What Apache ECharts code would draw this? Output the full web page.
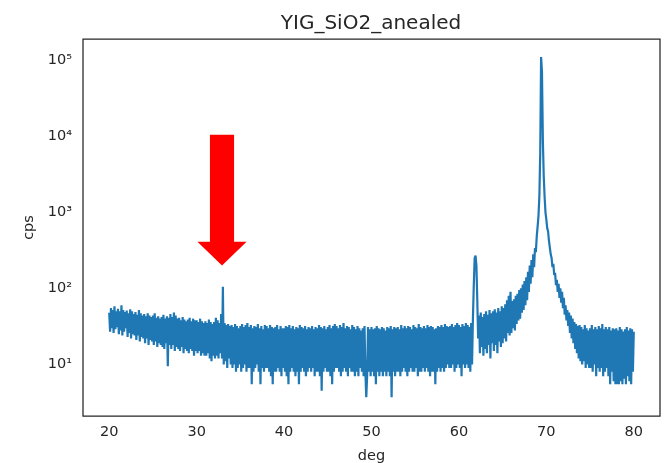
<!DOCTYPE html>
<html>
<head>
<meta charset="utf-8">
<script src="https://cdn.jsdelivr.net/npm/echarts@6/dist/echarts.min.js"></script>
<style>
  html, body { margin: 0; padding: 0; background: #fff; }
  #chart { width: 664px; height: 463px; }
</style>
</head>
<body>
<div id="chart"></div>
<script>
// scan grid (2theta, deg)
const degStart = 20;
const degStep = 0.1;
const xTicks = [20, 30, 40, 50, 60, 70, 80];

// counts per second, one row per degree (x.0 .. x.9)
const cps = [
  48,27,55,30,52,26,58,29,50,31,
  54,25,50,28,60,24,52,27,49,30,
  51,23,47,26,53,22,50,25,46,24,
  49,21,45,24,52,20,47,23,44,22,
  46,19,43,22,47,18,44,21,42,20,
  44,18,47,20,41,17,43,19,40,18,
  42,17,45,16,40,19,43,9.5,41,18,
  46,16,42,18,48,15,44,17,40,16,
  41,15,38,17,42,14,39,16,37,15,
  39,14,41,16,37,15,40,13,38,15,
  38,14,36,15,40,13,37,14,35,13,
  37,13,35,14,39,12,36,11,34,13,
  36,12,41,13,38,12,35,14,46,12,
  105,10,35,11,33,9,34,12,32,10,
  33,9,31,10,34,8,32,9,30,10,
  32,8,34,9,31,10,33,8,35,9,
  31,9,33,5.5,30,8,32,9,31,10,
  34,8,30,5.5,32,9,29,8,33,9,
  32,9,30,8,33,7,31,5.5,30,8,
  31,8,33,9,29,8,32,7,30,9,
  30,8,32,7,31,5.5,33,8,30,9,
  32,8,29,7,31,8,30,5.5,33,8,
  31,9,30,8,32,7,29,8,31,9,
  30,8,32,9,29,7,31,8,30,8,
  33,7,31,4.5,30,8,32,9,29,8,
  31,8,33,7,30,5.5,32,8,34,9,
  32,9,30,8,33,7,31,8,35,9,
  30,8,32,7,31,9,29,8,33,8,
  31,7,29,8,32,7,30,9,28,8,
  30,7,32,8,3.7,7,31,8,29,7,
  31,8,29,7,30,5.5,32,8,30,7,
  29,8,31,7,30,8,28,7,31,8,
  30,7,32,3.7,29,8,31,7,30,8,
  31,8,29,7,33,8,30,9,32,8,
  30,7,32,8,31,9,29,8,33,8,
  31,9,30,7,34,8,31,8,30,9,
  32,8,30,9,33,8,31,7,32,8,
  31,8,29,5.5,30,8,32,9,31,8,
  33,9,31,8,34,9,32,10,31,9,
  32,9,34,10,31,8,33,9,35,10,
  33,9,31,7,34,10,32,9,35,10,
  33,9,31,8,35,10,40,110,250,270,
  200,70,22,44,14,48,17,42,13,46,
  16,50,14,45,18,52,12,47,19,50,
  15,53,18,48,14,55,20,50,17,58,
  19,55,22,62,20,70,26,80,24,90,
  26,68,30,72,28,80,34,85,38,95,
  40,100,48,112,52,125,60,140,70,165,
  90,200,115,235,140,280,190,340,300,480,
  650,900,1600,6000,110000,70000,9000,3000,1600,1000,
  800,620,560,420,400,280,250,190,210,150,
  160,110,130,90,115,75,100,65,90,55,
  75,45,60,38,52,32,48,26,44,22,
  40,19,36,16,34,14,32,12,33,11,
  31,10,29,11,33,9,30,10,28,9,
  30,9,33,8,29,10,31,7,29,9,
  32,8,30,9,34,7,29,8,31,9,
  29,7,31,5.5,28,8,30,6,29,5.5,
  30,5.5,28,5.5,31,6,29,5.5,27,6.5,
  29,5.5,31,7,28,6,30,5.5,29,8,
  27
];

// red arrow pointing at the weak reflection
const arrowDeg = 32.9;
const arrowTop = 10500;
const arrowNeck = 410;
const arrowTip = 200;
const arrowShaftHalf = 1.38;
const arrowHeadHalf = 2.81;

const sup = { '1': '\u00b9', '2': '\u00b2', '3': '\u00b3', '4': '\u2074', '5': '\u2075' };

let lineData = cps.map((v, i) => [+(degStart + i * degStep).toFixed(2), v]);

const font = 'DejaVu Sans';
const txt = '#262626';

let chart = echarts.init(document.getElementById('chart'));
let option = {
  animation: false,
  backgroundColor: '#fff',
  title: {
    text: 'YIG_SiO2_anealed',
    left: 366,
    textAlign: 'center',
    top: 9,
    textStyle: { fontFamily: font, fontSize: 20, fontWeight: 'normal', color: txt }
  },
  grid: {
    left: 83, right: 4, top: 39, bottom: 47,
    outerBoundsMode: 'none',
    show: true, borderColor: '#262626', borderWidth: 1.25, backgroundColor: '#fff'
  },
  xAxis: {
    type: 'value',
    min: 17, max: 83,
    name: 'deg', nameLocation: 'middle', nameGap: 33,
    nameTextStyle: { fontFamily: font, fontSize: 14.5, color: txt },
    axisLine: { show: false },
    axisTick: { show: false },
    splitLine: { show: false },
    axisLabel: { customValues: xTicks, margin: 9, fontFamily: font, fontSize: 14.5, color: txt }
  },
  yAxis: {
    type: 'log', logBase: 10,
    min: 2.1, max: 190000,
    name: 'cps', nameLocation: 'middle', nameGap: 45,
    nameTextStyle: { fontFamily: font, fontSize: 14.5, color: txt },
    axisLine: { show: false },
    axisTick: { show: false },
    splitLine: { show: false },
    axisLabel: {
      showMinLabel: false, showMaxLabel: false,
      margin: 11, fontFamily: font, fontSize: 14.5, color: txt,
      formatter: (v) => {
        let e = Math.round(Math.log10(v));
        return '10' + (sup[e] || '');
      }
    }
  },
  series: [
    {
      name: 'cps',
      type: 'line',
      data: lineData,
      showSymbol: false,
      sampling: 'none',
      lineStyle: { color: '#1f77b4', width: 2.2 },
      itemStyle: { color: '#1f77b4' },
      z: 2
    },
    {
      type: 'custom',
      data: [[arrowDeg, arrowTip]],
      z: 3,
      renderItem: (params, api) => {
        let pts = [
          [arrowDeg - arrowShaftHalf, arrowTop],
          [arrowDeg + arrowShaftHalf, arrowTop],
          [arrowDeg + arrowShaftHalf, arrowNeck],
          [arrowDeg + arrowHeadHalf, arrowNeck],
          [arrowDeg, arrowTip],
          [arrowDeg - arrowHeadHalf, arrowNeck],
          [arrowDeg - arrowShaftHalf, arrowNeck]
        ].map(p => api.coord(p));
        return { type: 'polygon', shape: { points: pts }, style: { fill: '#ff0000' } };
      }
    }
  ]
};
chart.setOption(option);
</script>
</body>
</html>
